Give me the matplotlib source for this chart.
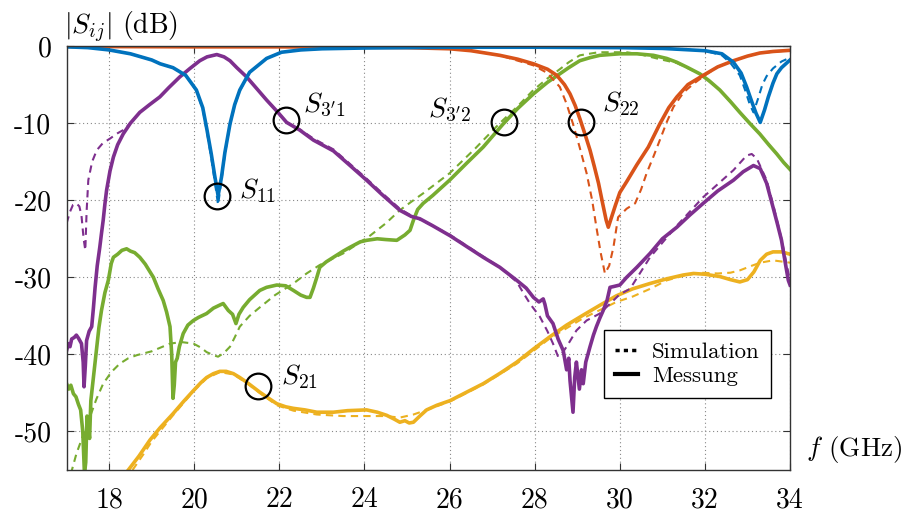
import matplotlib
matplotlib.use("Agg")
import matplotlib.pyplot as plt
from matplotlib.lines import Line2D

plt.rcParams['font.family'] = ['cmr10', 'DejaVu Serif']
plt.rcParams['mathtext.fontset'] = 'cm'
plt.rcParams['axes.unicode_minus'] = False
plt.rcParams['axes.formatter.use_mathtext'] = False

# MATLAB default colours
c_blue, c_orange, c_yellow, c_purple, c_green = '#0072BD', '#D95319', '#EDB120', '#7E2F8E', '#77AC30'

# ---- S11 ----
s11_meas_f = [17.0, 17.5, 18.0, 18.5, 19.0, 19.2, 19.5, 19.8, 20.05, 20.2, 20.3, 20.4, 20.48, 20.56,
              20.64, 20.72, 20.84, 20.95, 21.07, 21.3, 21.7, 22.05, 22.5, 23.0, 24.0, 26.0, 28.0, 30.0,
              31.0, 32.0, 32.4, 32.67, 32.85, 32.98, 33.1, 33.2, 33.3, 33.4, 33.49, 33.6, 33.69, 33.8, 34.0]
s11_meas_db = [-0.1, -0.2, -0.5, -1.0, -1.8, -2.3, -2.8, -3.8, -5.7, -8.0, -10.9, -14.0, -16.8, -19.4,
               -17.0, -13.8, -10.1, -7.6, -5.7, -3.4, -1.6, -0.8, -0.5, -0.35, -0.25, -0.15, -0.15, -0.2,
               -0.3, -0.6, -1.0, -2.1, -3.5, -5.3, -7.2, -8.7, -9.9, -8.3, -6.6, -4.8, -3.6, -2.8, -1.8]
s11_sim_f = [17.0, 17.5, 18.0, 18.5, 19.0, 19.2, 19.5, 19.8, 20.05, 20.2, 20.3, 20.4, 20.48, 20.56,
             20.64, 20.72, 20.84, 20.95, 21.07, 21.3, 21.7, 22.05, 22.5, 23.0, 24.0, 26.0, 28.0, 30.0,
             31.0, 32.0, 32.4, 32.6, 32.82, 32.95, 33.05, 33.14, 33.25, 33.35, 33.45, 33.6, 33.8, 34.0]
s11_sim_db = [-0.1, -0.2, -0.5, -1.0, -1.8, -2.3, -2.8, -3.8, -5.8, -8.2, -11.2, -14.5, -17.5, -20.6,
              -17.4, -14.0, -10.2, -7.7, -5.8, -3.4, -1.6, -0.8, -0.5, -0.35, -0.25, -0.15, -0.15, -0.2,
              -0.3, -0.6, -1.2, -2.2, -3.8, -5.8, -7.5, -8.6, -6.8, -5.0, -3.9, -2.9, -2.0, -1.5]

# ---- S22 ----
s22_meas_f = [17.0, 20.0, 22.0, 24.0, 25.0, 26.0, 26.5, 27.18, 27.6, 27.97, 28.3, 28.52, 28.7, 28.83,
              28.95, 29.06, 29.18, 29.3, 29.4, 29.5, 29.6, 29.68, 29.73, 29.8, 29.9, 30.0, 30.16, 30.4,
              30.67, 30.94, 31.15, 31.34, 31.6, 31.96, 32.3, 32.67, 33.0, 33.29, 33.6, 34.0]
s22_meas_db = [-0.05, -0.1, -0.1, -0.15, -0.2, -0.35, -0.6, -1.2, -1.7, -2.3, -3.0, -3.8, -5.0, -6.2,
               -7.7, -9.4, -11.4, -13.5, -15.6, -17.8, -20.5, -22.6, -23.5, -22.3, -20.6, -19.0, -17.6, -15.4,
               -13.1, -10.1, -8.0, -6.6, -5.0, -3.8, -2.7, -1.9, -1.3, -0.9, -0.7, -0.55]
s22_sim_f = [17.0, 20.0, 22.0, 24.0, 25.0, 26.0, 26.5, 27.18, 27.97, 28.3, 28.59, 28.75, 28.9, 29.05,
             29.22, 29.35, 29.45, 29.55, 29.65, 29.75, 29.85, 29.96, 30.16, 30.36, 30.5, 30.63, 30.8,
             30.94, 31.1, 31.26, 31.5, 31.73, 32.0, 32.3, 32.67, 33.0, 33.3, 34.0]
s22_sim_db = [-0.05, -0.1, -0.1, -0.15, -0.2, -0.35, -0.6, -1.2, -2.5, -3.5, -5.3, -7.5, -10.1, -13.0,
              -16.5, -20.0, -23.5, -26.8, -29.5, -28.5, -26.1, -22.2, -21.1, -20.4, -18.6, -16.5, -14.2,
              -12.2, -9.9, -7.9, -6.0, -4.9, -3.8, -2.7, -1.9, -1.3, -0.9, -0.55]

# ---- S3'2 ----
s32_meas_f = [17.0, 17.05, 17.1, 17.16, 17.22, 17.28, 17.33, 17.38, 17.42, 17.45, 17.48, 17.51, 17.54,
              17.57, 17.6, 17.65, 17.71, 17.76, 17.82, 17.9, 17.98, 18.05, 18.1, 18.2, 18.3, 18.41, 18.5,
              18.6, 18.72, 18.85, 18.95, 19.04, 19.15, 19.27, 19.35, 19.43, 19.47, 19.5, 19.53, 19.56,
              19.6, 19.65, 19.74, 19.85, 19.98, 20.1, 20.29, 20.45, 20.6, 20.68, 20.8, 20.9, 20.98, 21.05,
              21.15, 21.3, 21.54, 21.7, 21.94, 22.15, 22.33, 22.5, 22.64, 22.72, 22.8, 22.88, 22.95, 23.1,
              23.27, 23.5, 23.66, 23.9, 24.05, 24.3, 24.5, 24.76, 24.95, 25.07, 25.15, 25.25, 25.38, 25.6,
              26.0, 26.4, 26.79, 27.26, 27.6, 27.97, 28.3, 28.59, 28.8, 29.06, 29.3, 29.53, 30.0, 30.4,
              30.79, 31.1, 31.34, 31.6, 31.88, 32.1, 32.35, 32.6, 32.82, 33.05, 33.29, 33.5, 33.69, 33.85, 34.0]
s32_meas_db = [-43.8, -44.5, -44.0, -45.1, -45.5, -46.5, -47.2, -50.0, -55.5, -54.0, -48.0, -49.4, -50.9,
               -46.0, -44.5, -42.0, -39.0, -36.5, -34.3, -32.0, -30.4, -28.2, -27.4, -27.0, -26.5, -26.3, -26.6,
               -26.8, -27.4, -28.3, -29.2, -30.0, -31.5, -33.0, -34.5, -36.4, -40.0, -45.7, -44.0, -41.0,
               -40.5, -39.0, -37.3, -36.2, -35.6, -35.2, -34.7, -34.0, -33.6, -33.4, -34.3, -34.8, -36.0, -34.8,
               -33.9, -32.9, -31.7, -31.3, -31.0, -31.1, -31.7, -32.3, -32.6, -32.6, -31.4, -30.0, -28.7, -28.0,
               -27.4, -26.6, -26.1, -25.4, -25.2, -25.0, -25.1, -25.2, -24.5, -23.9, -22.6, -21.2, -20.4, -19.4,
               -17.4, -15.2, -13.1, -10.1, -8.1, -6.2, -4.7, -3.6, -2.8, -1.9, -1.5, -1.2, -1.0, -1.0,
               -1.2, -1.6, -2.1, -2.8, -3.6, -4.5, -5.7, -7.2, -8.6, -10.0, -11.4, -12.8, -14.0, -15.1, -16.0]
s32_sim_f = [17.1, 17.23, 17.4, 17.55, 17.7, 17.86, 18.05, 18.25, 18.45, 18.65, 19.0, 19.43, 19.7, 19.98,
             20.15, 20.29, 20.45, 20.56, 20.7, 20.84, 20.95, 21.07, 21.3, 21.54, 21.9, 22.33, 22.64, 22.95,
             23.5, 24.13, 24.5, 24.83, 25.1, 25.38, 26.0, 26.6, 27.18, 27.6, 27.97, 28.3, 28.59, 28.8, 29.06,
             29.5, 30.16, 30.5, 30.94, 31.34, 31.88, 32.35, 32.82, 33.29, 33.69, 34.0]
s32_sim_db = [-55.5, -52.9, -50.3, -48.1, -45.8, -43.8, -42.3, -41.2, -40.5, -40.1, -39.6, -38.6, -38.4, -38.6,
              -39.1, -39.7, -40.1, -40.3, -39.8, -39.0, -37.8, -36.4, -35.0, -33.9, -32.3, -30.8, -29.5, -28.4,
              -26.9, -24.6, -23.0, -21.3, -20.2, -19.1, -16.5, -13.3, -10.0, -7.8, -5.7, -4.2, -3.0, -2.1, -1.2,
              -0.8, -0.8, -1.1, -1.7, -2.2, -3.6, -5.7, -8.6, -11.4, -14.0, -16.0]

# ---- S3'1 ----
s31_meas_f = [17.0, 17.04, 17.08, 17.12, 17.18, 17.23, 17.28, 17.35, 17.39, 17.41, 17.44, 17.47, 17.53,
              17.59, 17.63, 17.67, 17.72, 17.78, 17.82, 17.86, 17.9, 17.94, 18.02, 18.1, 18.2, 18.33, 18.5,
              18.72, 18.95, 19.19, 19.4, 19.66, 19.9, 20.13, 20.3, 20.53, 20.7, 20.84, 21.0, 21.23, 21.45,
              21.7, 21.95, 22.17, 22.48, 22.8, 23.27, 23.6, 24.05, 24.4, 24.83, 25.1, 25.3, 25.6, 26.01,
              26.4, 26.79, 27.18, 27.58, 27.8, 27.97, 28.1, 28.2, 28.24, 28.3, 28.43, 28.55, 28.67, 28.75,
              28.8, 28.83, 28.9, 28.94, 28.98, 29.05, 29.1, 29.14, 29.2, 29.3, 29.38, 29.45, 29.53, 29.61,
              29.7, 29.77, 29.85, 30.0, 30.16, 30.4, 30.71, 31.0, 31.34, 31.65, 31.96, 32.3, 32.67, 32.9,
              33.14, 33.3, 33.45, 33.6, 33.7, 33.8, 33.9, 33.96, 34.0]
s31_meas_db = [-39.5, -38.6, -39.0, -38.0, -37.8, -37.5, -37.9, -38.6, -41.0, -44.2, -41.5, -38.2, -37.0,
               -36.4, -34.0, -31.3, -28.5, -26.1, -24.3, -22.6, -20.5, -18.7, -16.2, -14.4, -12.8, -11.4, -10.0,
               -8.6, -7.6, -6.6, -5.4, -4.0, -2.9, -1.9, -1.4, -1.1, -1.4, -1.9, -2.8, -4.0, -5.4,
               -7.0, -8.5, -9.9, -10.9, -12.2, -13.6, -15.2, -17.4, -19.2, -21.3, -22.1, -22.4, -23.3, -24.6,
               -26.0, -27.4, -28.7, -30.4, -31.4, -32.6, -33.2, -32.8, -33.5, -35.0, -36.0, -38.0, -39.5, -42.0,
               -40.5, -43.4, -47.5, -43.0, -41.0, -44.5, -42.0, -43.8, -41.0, -39.0, -37.5, -36.4, -35.3, -34.3,
               -33.0, -31.3, -31.2, -31.0, -30.0, -28.7, -26.9, -25.0, -23.5, -21.9, -20.4, -18.8, -17.4, -16.3,
               -15.5, -15.9, -17.8, -20.9, -23.0, -25.2, -28.5, -30.4, -31.0]
s31_sim_f = [17.0, 17.08, 17.15, 17.23, 17.3, 17.35, 17.4, 17.44, 17.47, 17.51, 17.6, 17.71, 17.85, 18.02,
             18.2, 18.33, 18.5, 18.72, 18.95, 19.19, 19.4, 19.66, 19.9, 20.13, 20.3, 20.53, 20.7, 20.84, 21.0,
             21.23, 21.45, 21.7, 21.95, 22.17, 22.48, 22.8, 23.27, 23.6, 24.05, 24.4, 24.83, 25.1, 25.3, 25.6,
             26.01, 26.4, 26.79, 27.18, 27.58, 27.73, 27.9, 28.12, 28.3, 28.43, 28.55, 28.65, 28.75, 28.98,
             29.22, 29.53, 29.85, 30.0, 30.24, 30.71, 31.34, 31.96, 32.67, 32.98, 33.1, 33.22, 33.45, 33.6,
             33.8, 34.0]
s31_sim_db = [-23.0, -21.5, -20.6, -20.4, -20.8, -22.0, -25.0, -26.5, -21.5, -17.4, -15.0, -13.5, -12.6, -12.0,
              -11.3, -10.9, -10.0, -8.6, -7.6, -6.6, -5.4, -4.0, -2.9, -1.9, -1.4, -1.1, -1.4, -1.9, -2.8,
              -4.0, -5.4, -7.0, -8.5, -9.9, -10.8, -12.0, -13.4, -15.0, -17.2, -19.0, -21.1, -22.0, -22.5, -23.3,
              -24.5, -25.9, -27.3, -28.7, -30.6, -32.0, -33.5, -35.1, -37.0, -38.6, -40.3, -39.8, -39.0, -36.9,
              -35.6, -34.7, -33.0, -32.2, -31.5, -27.4, -23.3, -19.6, -16.1, -14.2, -14.0, -14.6, -17.4, -20.5,
              -25.0, -30.5]

# ---- S21 ----
s21_meas_f = [18.45, 18.7, 18.96, 19.2, 19.5, 19.75, 19.98, 20.15, 20.29, 20.45, 20.6, 20.75, 20.92, 21.07,
              21.23, 21.54, 21.75, 21.94, 22.15, 22.33, 22.6, 22.88, 23.27, 23.6, 24.05, 24.3, 24.52, 24.7,
              24.83, 24.95, 25.05, 25.15, 25.3, 25.46, 25.7, 26.01, 26.4, 26.79, 27.2, 27.58, 27.97, 28.36,
              28.75, 29.14, 29.54, 29.92, 30.3, 30.71, 31.1, 31.49, 31.73, 32.0, 32.35, 32.6, 32.82, 33.0,
              33.15, 33.3, 33.45, 33.6, 33.8, 34.0]
s21_meas_db = [-55.0, -53.2, -51.1, -49.5, -47.7, -46.1, -44.7, -43.7, -43.0, -42.5, -42.2, -42.2, -42.5, -43.0,
               -43.6, -44.9, -45.7, -46.4, -46.8, -47.0, -47.2, -47.5, -47.5, -47.3, -47.2, -47.5, -47.9, -48.4,
               -48.8, -48.6, -48.9, -48.8, -48.0, -47.2, -46.6, -46.0, -44.9, -43.8, -42.4, -41.0, -39.3, -37.7,
               -36.2, -34.9, -33.6, -32.4, -31.5, -30.8, -30.2, -29.7, -29.5, -29.6, -29.9, -30.3, -30.6, -30.3,
               -29.3, -27.8, -27.0, -26.7, -26.7, -27.0]
s21_sim_f = [18.55, 18.8, 19.0, 19.5, 19.98, 20.29, 20.6, 20.92, 21.23, 21.54, 21.94, 22.33, 22.88, 23.5,
             24.05, 24.5, 24.83, 25.15, 25.46, 26.01, 26.79, 27.58, 28.36, 29.14, 29.92, 30.3, 30.71, 31.1,
             31.49, 31.9, 32.3, 32.6, 32.82, 33.1, 33.3, 33.6, 34.0]
s21_sim_db = [-55.0, -53.0, -51.3, -47.9, -44.8, -43.1, -42.3, -42.6, -43.7, -45.0, -46.6, -47.3, -47.8, -48.0,
              -48.0, -48.0, -48.2, -47.8, -47.2, -46.1, -43.9, -41.2, -37.9, -35.3, -33.2, -32.5, -31.5, -30.4,
              -29.8, -29.4, -29.5, -29.4, -29.1, -28.5, -28.1, -27.8, -28.1]

# curve markers and labels
mark_f = [20.54, 22.15, 27.28, 29.09, 21.49]
mark_db = [-19.45, -9.64, -9.8, -9.86, -44.1]
lab_text = [r'$S_{11}$', r"$S_{3'1}$", r"$S_{3'2}$", r'$S_{22}$', r'$S_{21}$']
lab_f = [21.05, 22.55, 26.52, 29.58, 22.03]
lab_db = [-18.7, -7.7, -8.3, -7.5, -42.9]
lab_ha = ['left', 'left', 'right', 'left', 'left']

fig = plt.figure(figsize=(9.06, 5.12), dpi=100)
ax = fig.add_axes([0.0735, 0.082, 0.7985, 0.828])

dash = (0, (3.5, 2.5))
curves = [
    (s32_sim_f, s32_sim_db, s32_meas_f, s32_meas_db, c_green),
    (s21_sim_f, s21_sim_db, s21_meas_f, s21_meas_db, c_yellow),
    (s31_sim_f, s31_sim_db, s31_meas_f, s31_meas_db, c_purple),
    (s22_sim_f, s22_sim_db, s22_meas_f, s22_meas_db, c_orange),
    (s11_sim_f, s11_sim_db, s11_meas_f, s11_meas_db, c_blue),
]
for sf, sd, mf, md, col in curves:
    ax.plot(sf, sd, color=col, lw=1.5, ls=dash)
    ax.plot(mf, md, color=col, lw=2.6, solid_joinstyle='round')

ax.plot(mark_f, mark_db, ls='none', marker='o', ms=18.5, mfc='none', mec='black', mew=1.6, zorder=5)
for t, x, y, ha in zip(lab_text, lab_f, lab_db, lab_ha):
    ax.text(x, y, t, fontsize=20, ha=ha, va='center')

ax.set_xlim(17, 34)
ax.set_ylim(-55, 0)
ax.set_xticks([18, 20, 22, 24, 26, 28, 30, 32, 34])
ax.set_yticks([0, -10, -20, -30, -40, -50])
ax.grid(True, ls=(0, (1, 2.5)), color='#888888', lw=0.8)
ax.tick_params(direction='in', top=True, right=True, length=5, width=0.8,
               color='#333333', labelsize=20, pad=11)
ax.tick_params(axis='x', pad=12)
for sp in ax.spines.values():
    sp.set_color('#333333')
    sp.set_linewidth(1.0)

ax.text(-0.003, 1.045, r'$|S_{ij}|$ (dB)', transform=ax.transAxes, fontsize=20,
        ha='left', va='center')
ax.text(1.022, 0.048, r'$f$ (GHz)', transform=ax.transAxes, fontsize=19.5,
        ha='left', va='center', clip_on=False)

handles = [Line2D([], [], color='black', lw=2.5, ls=(0, (1.2, 1.2))),
           Line2D([], [], color='black', lw=3.0)]
leg = ax.legend(handles, ['Simulation', 'Messung'], loc='center', bbox_to_anchor=(0.858, 0.25),
                fontsize=16.5, frameon=True, fancybox=False, edgecolor='black', framealpha=1,
                handlelength=1.0, handletextpad=0.6, borderpad=0.5, labelspacing=0.2)
leg.get_frame().set_linewidth(1.0)

fig.savefig('out.png', dpi=100)
